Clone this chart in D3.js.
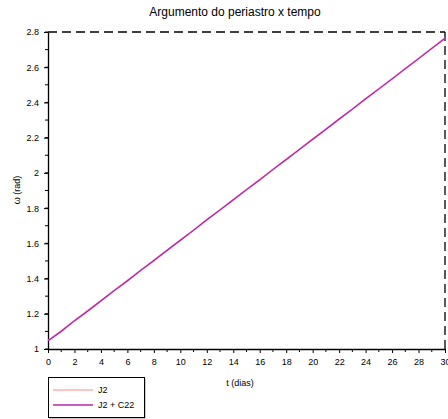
<!DOCTYPE html>
<html>
<head>
<meta charset="utf-8">
<script src="https://cdn.jsdelivr.net/npm/d3@7"></script>
<style>
    body { margin: 0; background: #fff; }
    svg { display: block; font-family: "Liberation Sans", Arial, sans-serif; }
    .tickLabel { font-size: 9px; fill: #000; }
</style>
</head>
<body>
<div id="chart"></div>
<script>
// time in days
const days = [0, 1, 2, 3, 4, 5, 6, 7, 8, 9, 10, 11, 12, 13, 14, 15,
    16, 17, 18, 19, 20, 21, 22, 23, 24, 25, 26, 27, 28, 29, 30];
// omega (rad), J2 only
const omegaJ2 = [1.048, 1.104, 1.162, 1.219, 1.275, 1.334, 1.390, 1.448, 1.505, 1.562, 1.620,
    1.676, 1.735, 1.792, 1.849, 1.907, 1.963, 2.021, 2.078, 2.135, 2.193,
    2.249, 2.308, 2.364, 2.422, 2.479, 2.535, 2.594, 2.650, 2.709, 2.766];
// omega (rad), J2 + C22
const omegaJ2C22 = [1.046, 1.100, 1.160, 1.215, 1.273, 1.331, 1.387, 1.446, 1.502, 1.560, 1.617,
    1.674, 1.733, 1.789, 1.847, 1.904, 1.960, 2.019, 2.075, 2.133, 2.190,
    2.247, 2.305, 2.361, 2.420, 2.476, 2.533, 2.591, 2.648, 2.706, 2.764];
const xTicks = [0, 2, 4, 6, 8, 10, 12, 14, 16, 18, 20, 22, 24, 26, 28, 30];
const yTicks = [1, 1.2, 1.4, 1.6, 1.8, 2, 2.2, 2.4, 2.6, 2.8];
const seriesNames = ["J2", "J2 + C22"];
const colors = ["#ffb0b0", "#b526b5"];

const width = 448, height = 419;
const plotL = 48, plotR = 445, plotT = 32, plotB = 349;

const svg = d3.select("#chart").append("svg")
    .attr("width", width)
    .attr("height", height);

const x = d3.scaleLinear().domain([0, 30]).range([plotL, plotR]);
const y = d3.scaleLinear().domain([1, 2.8]).range([plotB, plotT]);

// title
svg.append("text")
    .attr("x", 235).attr("y", 16)
    .attr("text-anchor", "middle")
    .style("font-size", "12px")
    .text("Argumento do periastro x tempo");

// dashed top and right frame
svg.append("line")
    .attr("x1", plotL).attr("x2", plotR).attr("y1", plotT).attr("y2", plotT)
    .attr("stroke", "#000").attr("stroke-width", 1.3).attr("stroke-dasharray", "9,5");
svg.append("line")
    .attr("x1", plotR).attr("x2", plotR).attr("y1", plotT).attr("y2", plotB)
    .attr("stroke", "#000").attr("stroke-width", 1.3).attr("stroke-dasharray", "9,5");

// minor ticks
const yMinor = d3.range(1, 2.81, 0.1);
svg.append("g").selectAll("line").data(yMinor).join("line")
    .attr("x1", plotL - 3).attr("x2", plotL)
    .attr("y1", d => y(d)).attr("y2", d => y(d))
    .attr("stroke", "#000");
svg.append("g").selectAll("line").data(d3.range(1, 30, 2)).join("line")
    .attr("x1", d => x(d)).attr("x2", d => x(d))
    .attr("y1", plotB).attr("y2", plotB + 3)
    .attr("stroke", "#000");

// axes
const xAxis = svg.append("g")
    .attr("transform", `translate(0,${plotB})`)
    .call(d3.axisBottom(x).tickValues(xTicks).tickSize(4).tickSizeOuter(0).tickPadding(6));
const yAxis = svg.append("g")
    .attr("transform", `translate(${plotL},0)`)
    .call(d3.axisLeft(y).tickValues(yTicks).tickSize(4).tickSizeOuter(0).tickPadding(5)
        .tickFormat(d3.format("")));
[xAxis, yAxis].forEach(a => {
    a.attr("font-family", null).attr("font-size", null);
    a.select(".domain").attr("stroke-width", 1.3);
    a.selectAll("text").attr("class", "tickLabel");
});

// axis labels
svg.append("text")
    .attr("x", 240).attr("y", 386)
    .attr("text-anchor", "middle")
    .style("font-size", "9px")
    .text("t (dias)");
svg.append("text")
    .attr("transform", "translate(20,190) rotate(-90)")
    .attr("text-anchor", "middle")
    .style("font-size", "9px")
    .text("ω (rad)");

// data lines
const line = d3.line().x((d, i) => x(days[i])).y(d => y(d));
[omegaJ2, omegaJ2C22].forEach((s, i) => {
    svg.append("path")
        .datum(s)
        .attr("d", line)
        .attr("fill", "none")
        .attr("stroke", colors[i])
        .attr("stroke-width", 1.4);
});

// legend
const legend = svg.append("g").attr("transform", "translate(48,377)");
legend.append("rect")
    .attr("x", 1.5).attr("y", 1.5).attr("width", 96).attr("height", 40)
    .attr("fill", "#999");
legend.append("rect")
    .attr("x", 0.5).attr("y", 0.5).attr("width", 96).attr("height", 40)
    .attr("fill", "#fff").attr("stroke", "#000");
seriesNames.forEach((name, i) => {
    const ly = 13 + i * 15;
    legend.append("line")
        .attr("x1", 5).attr("x2", 45).attr("y1", ly).attr("y2", ly)
        .attr("stroke", colors[i]).attr("stroke-width", 1.4);
    legend.append("text")
        .attr("x", 50).attr("y", ly + 3)
        .style("font-size", "9px")
        .text(name);
});
</script>
</body>
</html>
